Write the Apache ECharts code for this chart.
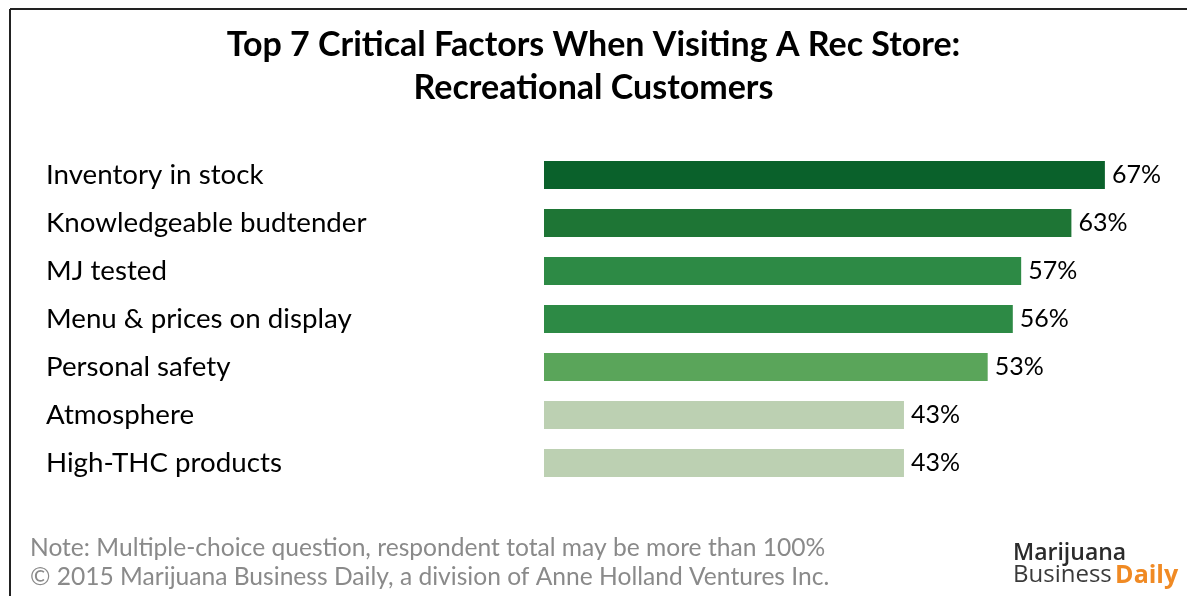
<!DOCTYPE html>
<html>
<head>
<meta charset="utf-8">
<script src="https://cdn.jsdelivr.net/npm/echarts@6/dist/echarts.min.js"></script>
<style>
  html, body { margin: 0; padding: 0; background: #fff; }
  #chart { width: 1187px; height: 596px; }
</style>
</head>
<body>
<div id="chart"></div>
<script>
// Survey factors, top to bottom
const factors = [
  'Inventory in stock',
  'Knowledgeable budtender',
  'MJ tested',
  'Menu & prices on display',
  'Personal safety',
  'Atmosphere',
  'High-THC products'
];
// Share of recreational customers (%)
const shares = [67, 63, 57, 56, 53, 43, 43];
// Bar fills, darkest for the top factor
const barColors = ['#0a612b', '#1e7535', '#2d8a45', '#2d8a45', '#5aa55a', '#bcd0b2', '#bcd0b2'];

const titleText = 'Top 7 Critical Factors When Visiting A Rec Store:\nRecreational Customers';
const noteLines = [
  'Note: Multiple-choice question, respondent total may be more than 100%',
  '\u00a9 2015 Marijuana Business Daily, a division of Anne Holland Ventures Inc.'
];

const FONT = 'Lato, "Open Sans", sans-serif';
const chart = echarts.init(document.getElementById('chart'));

chart.setOption({
  animation: false,
  backgroundColor: '#fff',
  title: {
    text: titleText,
    left: 'center',
    top: 19,
    textStyle: { fontFamily: FONT, fontSize: 34, fontWeight: 'bold', color: '#000', lineHeight: 43 }
  },
  grid: { left: 544, top: 151, width: 586, height: 336, containLabel: false },
  xAxis: {
    type: 'value', min: 0, max: 70,
    show: false
  },
  yAxis: {
    type: 'category',
    inverse: true,
    data: factors,
    axisLine: { show: false },
    axisTick: { show: false },
    axisLabel: {
      align: 'left',
      margin: 498,
      fontFamily: FONT,
      fontSize: 27.7,
      color: '#000'
    }
  },
  series: [{
    type: 'bar',
    barWidth: 28,
    data: shares.map((v, i) => ({ value: v, itemStyle: { color: barColors[i] } })),
    label: {
      show: true,
      position: 'right',
      distance: 7,
      formatter: '{c}%',
      fontFamily: FONT,
      fontSize: 25,
      color: '#000'
    }
  }],
  graphic: [
    // frame: top and left edges
    { type: 'line', shape: { x1: 10, y1: 9, x2: 1187, y2: 9 }, style: { stroke: '#222', lineWidth: 2 } },
    { type: 'line', shape: { x1: 10, y1: 9, x2: 10, y2: 596 }, style: { stroke: '#222', lineWidth: 2 } },
    {
      type: 'text', left: 30, top: 536,
      style: { text: noteLines[0], fontFamily: FONT, fontSize: 24.6, fill: '#8a8a8a' }
    },
    {
      type: 'text', left: 30, top: 565,
      style: { text: noteLines[1], fontFamily: FONT, fontSize: 24.6, fill: '#8a8a8a' }
    },
    {
      type: 'text', left: 1013, top: 542,
      style: { text: 'Marijuana', fontFamily: '"Open Sans", sans-serif', fontSize: 23, fontWeight: 600, fill: '#2b2b2b' }
    },
    {
      type: 'text', left: 1013, top: 563,
      style: {
        text: '{b|Business} {d|Daily}',
        rich: {
          b: { fontFamily: '"Open Sans", sans-serif', fontSize: 24, fill: '#3a3a3a' },
          d: { fontFamily: '"Open Sans", sans-serif', fontSize: 25, fontWeight: 'bold', fill: '#f08a24' }
        }
      }
    }
  ]
});
</script>
</body>
</html>
